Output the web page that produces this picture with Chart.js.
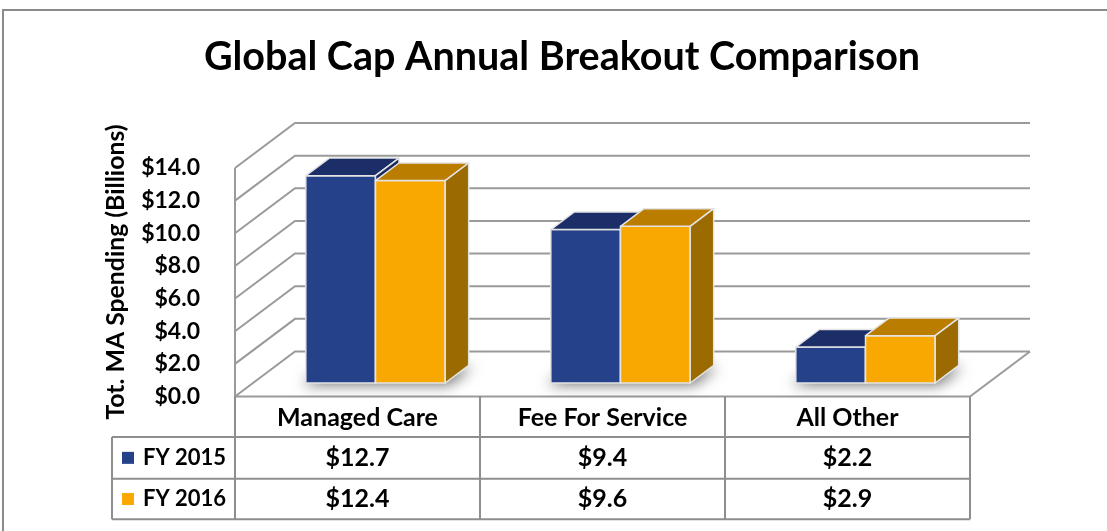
<!DOCTYPE html>
<html>
<head>
<meta charset="utf-8">
<script src="https://cdn.jsdelivr.net/npm/chart.js@4.4.0/dist/chart.umd.min.js"></script>
<style>
  html, body { margin: 0; padding: 0; background: #fff; }
  #chartBox { width: 1107px; height: 531px; position: relative; }
</style>
</head>
<body>
<div id="chartBox"><canvas id="chartCanvas"></canvas></div>
<script>
// chart values
const categories = ['Managed Care', 'Fee For Service', 'All Other'];
const seriesNames = ['FY 2015', 'FY 2016'];
const fy2015 = [12.7, 9.4, 2.2];
const fy2016 = [12.4, 9.6, 2.9];
const yMin = 0, yMax = 14, yStep = 2;

const FONT = 'Lato, "Open Sans", sans-serif';
const frontColors = ['#24418a', '#f8a800'];
const topColors = ['#1b2e68', '#bb7d00'];
const sideColors = ['#182a5e', '#9b6a00'];

// 3d look: wall depth and bar box depth (px)
const wallDX = 60, wallDY = 45;
const barOffX = 18, barOffY = 13.5;
const barDX = 23.5, barDY = 17.6;

const fmt = v => '$' + v.toFixed(1);

const box3d = {
  id: 'box3d',
  beforeDraw(chart) {
    const ctx = chart.ctx;
    ctx.save();
    ctx.strokeStyle = '#8a8a8a';
    ctx.lineWidth = 2;
    ctx.beginPath();
    ctx.moveTo(3, 531);
    ctx.lineTo(3, 10);
    ctx.lineTo(1107, 10);
    ctx.stroke();
    ctx.restore();
  },
  beforeDatasetsDraw(chart) {
    const ctx = chart.ctx;
    const yS = chart.scales.y;
    const { left, right, top, bottom } = chart.chartArea;
    ctx.save();
    ctx.strokeStyle = '#9a9a9a';
    ctx.lineWidth = 2;
    yS.ticks.forEach(t => {
      const y = yS.getPixelForValue(t.value);
      ctx.beginPath();
      ctx.moveTo(left, y);
      ctx.lineTo(left + wallDX, y - wallDY);
      ctx.lineTo(right + wallDX, y - wallDY);
      ctx.stroke();
    });
    ctx.beginPath();
    ctx.moveTo(left, top);
    ctx.lineTo(left, bottom);
    ctx.lineTo(right, bottom);
    ctx.lineTo(right + wallDX, bottom - wallDY);
    ctx.stroke();

    // soft shadow under each bar pair
    const metas = chart.getSortedVisibleDatasetMetas();
    categories.forEach((c, i) => {
      const a = metas[0].data[i], b = metas[metas.length - 1].data[i];
      const x0 = a.x - a.width / 2 + barOffX, x1 = b.x + b.width / 2 + barOffX;
      const yb = a.base - barOffY;
      ctx.save();
      ctx.shadowColor = 'rgba(0,0,0,0.55)';
      ctx.shadowBlur = 14;
      ctx.shadowOffsetX = 3000;
      ctx.fillStyle = '#000';
      ctx.beginPath();
      ctx.moveTo(x0 - 3000 - 4, yb + 2);
      ctx.lineTo(x1 - 3000 + 4, yb + 2);
      ctx.lineTo(x1 + barDX - 3000 + 4, yb - barDY + 2);
      ctx.lineTo(x0 + barDX - 3000 - 4, yb - barDY + 2);
      ctx.closePath();
      ctx.fill();
      ctx.restore();
    });
    ctx.restore();
  },
  beforeDatasetDraw() {
    return false; // bars are drawn as boxes below
  },
  afterDatasetsDraw(chart) {
    const ctx = chart.ctx;
    const metas = chart.getSortedVisibleDatasetMetas();
    ctx.save();
    ctx.lineWidth = 1.5;
    ctx.strokeStyle = '#e4e4e4';
    ctx.lineJoin = 'round';
    categories.forEach((c, i) => {
      metas.forEach((meta, d) => {
        const p = meta.data[i].getProps(['x', 'y', 'base', 'width'], true);
        const L = p.x - p.width / 2 + barOffX, R = p.x + p.width / 2 + barOffX;
        const T = p.y - barOffY, B = p.base - barOffY;
        // front
        ctx.fillStyle = frontColors[d];
        ctx.beginPath();
        ctx.rect(L, T, R - L, B - T);
        ctx.fill(); ctx.stroke();
        // top
        ctx.fillStyle = topColors[d];
        ctx.beginPath();
        ctx.moveTo(L, T); ctx.lineTo(R, T);
        ctx.lineTo(R + barDX, T - barDY); ctx.lineTo(L + barDX, T - barDY);
        ctx.closePath();
        ctx.fill(); ctx.stroke();
        // side
        ctx.fillStyle = sideColors[d];
        ctx.beginPath();
        ctx.moveTo(R, T); ctx.lineTo(R + barDX, T - barDY);
        ctx.lineTo(R + barDX, B - barDY); ctx.lineTo(R, B);
        ctx.closePath();
        ctx.fill(); ctx.stroke();
      });
    });
    ctx.restore();
  },
  afterDraw(chart) {
    const ctx = chart.ctx;
    const { left, right, bottom } = chart.chartArea;
    const xS = chart.scales.x;
    const colW = (right - left) / categories.length;
    const legendLeft = 112;
    const rows = [bottom, 437, 478.7, 519.3];

    ctx.save();
    // y axis title
    ctx.fillStyle = '#000';
    ctx.font = 'bold 24.8px ' + FONT;
    ctx.textAlign = 'center';
    ctx.textBaseline = 'middle';
    ctx.translate(116, 272);
    ctx.rotate(-Math.PI / 2);
    ctx.fillText('Tot. MA Spending (Billions)', 0, 0);
    ctx.restore();

    ctx.save();
    ctx.strokeStyle = '#8e8e8e';
    ctx.lineWidth = 2;
    ctx.beginPath();
    for (let r = 1; r < rows.length; r++) {
      ctx.moveTo(legendLeft, rows[r]);
      ctx.lineTo(right, rows[r]);
    }
    for (let k = 0; k <= categories.length; k++) {
      ctx.moveTo(left + k * colW, bottom);
      ctx.lineTo(left + k * colW, rows[3]);
    }
    ctx.moveTo(legendLeft, rows[1]);
    ctx.lineTo(legendLeft, rows[3]);
    ctx.stroke();

    ctx.fillStyle = '#000';
    ctx.font = 'bold 25px ' + FONT;
    ctx.textAlign = 'center';
    ctx.textBaseline = 'middle';
    const series = [fy2015, fy2016];
    categories.forEach((c, i) => {
      const cx = xS.getPixelForValue(i);
      ctx.fillText(c, cx, (rows[0] + rows[1]) / 2 + 1);
      series.forEach((vals, s) => {
        ctx.fillText(fmt(vals[i]), cx, (rows[s + 1] + rows[s + 2]) / 2);
      });
    });
    ctx.font = 'bold 22px ' + FONT;
    seriesNames.forEach((name, s) => {
      const cy = (rows[s + 1] + rows[s + 2]) / 2;
      ctx.fillStyle = frontColors[s];
      ctx.fillRect(122, cy - 6, 12, 12);
      ctx.fillStyle = '#000';
      ctx.textAlign = 'left';
      ctx.fillText(name, 143, cy);
    });
    ctx.restore();
  }
};

const ctx = document.getElementById('chartCanvas').getContext('2d');
new Chart(ctx, {
  type: 'bar',
  data: {
    labels: categories,
    datasets: [
      { label: seriesNames[0], data: fy2015, backgroundColor: frontColors[0] },
      { label: seriesNames[1], data: fy2016, backgroundColor: frontColors[1] }
    ]
  },
  options: {
    responsive: true,
    maintainAspectRatio: false,
    animation: false,
    categoryPercentage: 0.569,
    barPercentage: 1,
    layout: { padding: { left: 17, right: 0, top: 0, bottom: 134.5 } },
    scales: {
      x: { display: false },
      y: {
        min: yMin,
        max: yMax,
        afterFit: s => { s.width = 218; },
        grid: { display: false, drawTicks: false },
        border: { display: false },
        ticks: {
          stepSize: yStep,
          padding: 35,
          color: '#000',
          font: { family: FONT, size: 23, weight: 'bold' },
          callback: v => fmt(v)
        }
      },
      yRight: {
        position: 'right',
        afterFit: s => { s.width = 137; },
        grid: { display: false, drawTicks: false },
        border: { display: false },
        ticks: { display: false }
      }
    },
    plugins: {
      legend: { display: false },
      tooltip: { enabled: false },
      title: {
        display: true,
        text: 'Global Cap Annual Breakout Comparison',
        color: '#000',
        font: { family: FONT, size: 39.5, weight: 'bold', lineHeight: 1.2 },
        padding: { top: 33.3, bottom: 87.3 }
      }
    }
  },
  plugins: [box3d]
});
</script>
</body>
</html>
